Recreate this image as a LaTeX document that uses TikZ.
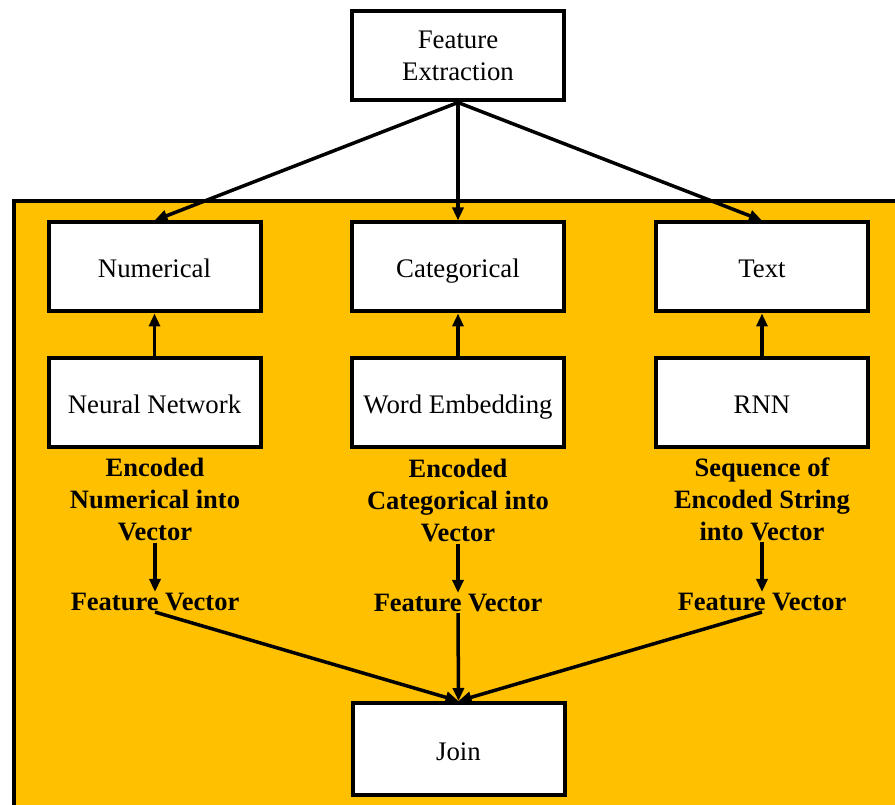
\documentclass[tikz,border=0pt]{standalone}
\usepackage{fontspec}
\setmainfont{Liberation Serif}
\usetikzlibrary{arrows.meta}
\definecolor{gold}{HTML}{FFC000}
\begin{document}
\begin{tikzpicture}[x=1pt,y=-1pt,
  box/.style={draw=black,line width=4pt,fill=white,minimum width=212pt,minimum height=89pt,inner sep=0pt,
    align=center,font=\fontsize{26.8}{31.5}\selectfont},
  one/.style={text height=24pt,text depth=2pt},
  lbl/.style={align=center,inner sep=1pt,font=\fontsize{26.5}{32}\selectfont\bfseries},
  arr/.style={line width=3.5pt,-{Triangle[length=13pt,width=11pt]}}]
\useasboundingbox (0,0) rectangle (895,805);
\fill[white] (0,0) rectangle (895,805);
\draw[line width=4pt,fill=gold] (14,201) rectangle (899,809);
\node[box] (fe) at (458,56) {\rule{0pt}{12pt}Feature\\Extraction};
\node[box,one] (num) at (154.5,267) {Numerical};
\node[box,one] (cat) at (458,267) {Categorical};
\node[box,one] (txt) at (762,267) {Text};
\node[box,one] (nn) at (154.5,402) {Neural Network};
\node[box,one] (we) at (458,402) {Word Embedding};
\node[box,one] (rnn) at (762,402) {RNN};
\node[box,one,minimum height=92pt] (join) at (458.5,749) {Join};
\node[lbl] (e1) at (155,500) {Encoded\\Numerical into\\Vector};
\node[lbl] (e2) at (458,501) {Encoded\\Categorical into\\Vector};
\node[lbl] (e3) at (762,499) {Sequence of\\Encoded String\\into Vector};
\node[lbl] (f1) at (155,602) {Feature Vector};
\node[lbl] (f2) at (458,603) {Feature Vector};
\node[lbl] (f3) at (762,602) {Feature Vector};
\draw[arr] (fe.south) -- (num.north);
\draw[arr] (fe.south) -- (cat.north);
\draw[arr] (fe.south) -- (txt.north);
\draw[arr] (nn.north) -- (num.south);
\draw[arr] (we.north) -- (cat.south);
\draw[arr] (rnn.north) -- (txt.south);
\draw[arr] (e1.south) -- (f1.north);
\draw[arr] (e2.south) -- (f2.north);
\draw[arr] (e3.south) -- (f3.north);
\draw[arr] (f1.south) -- (join.north);
\draw[arr] (f2.south) -- (join.north);
\draw[arr] (f3.south) -- (join.north);
\end{tikzpicture}
\end{document}
